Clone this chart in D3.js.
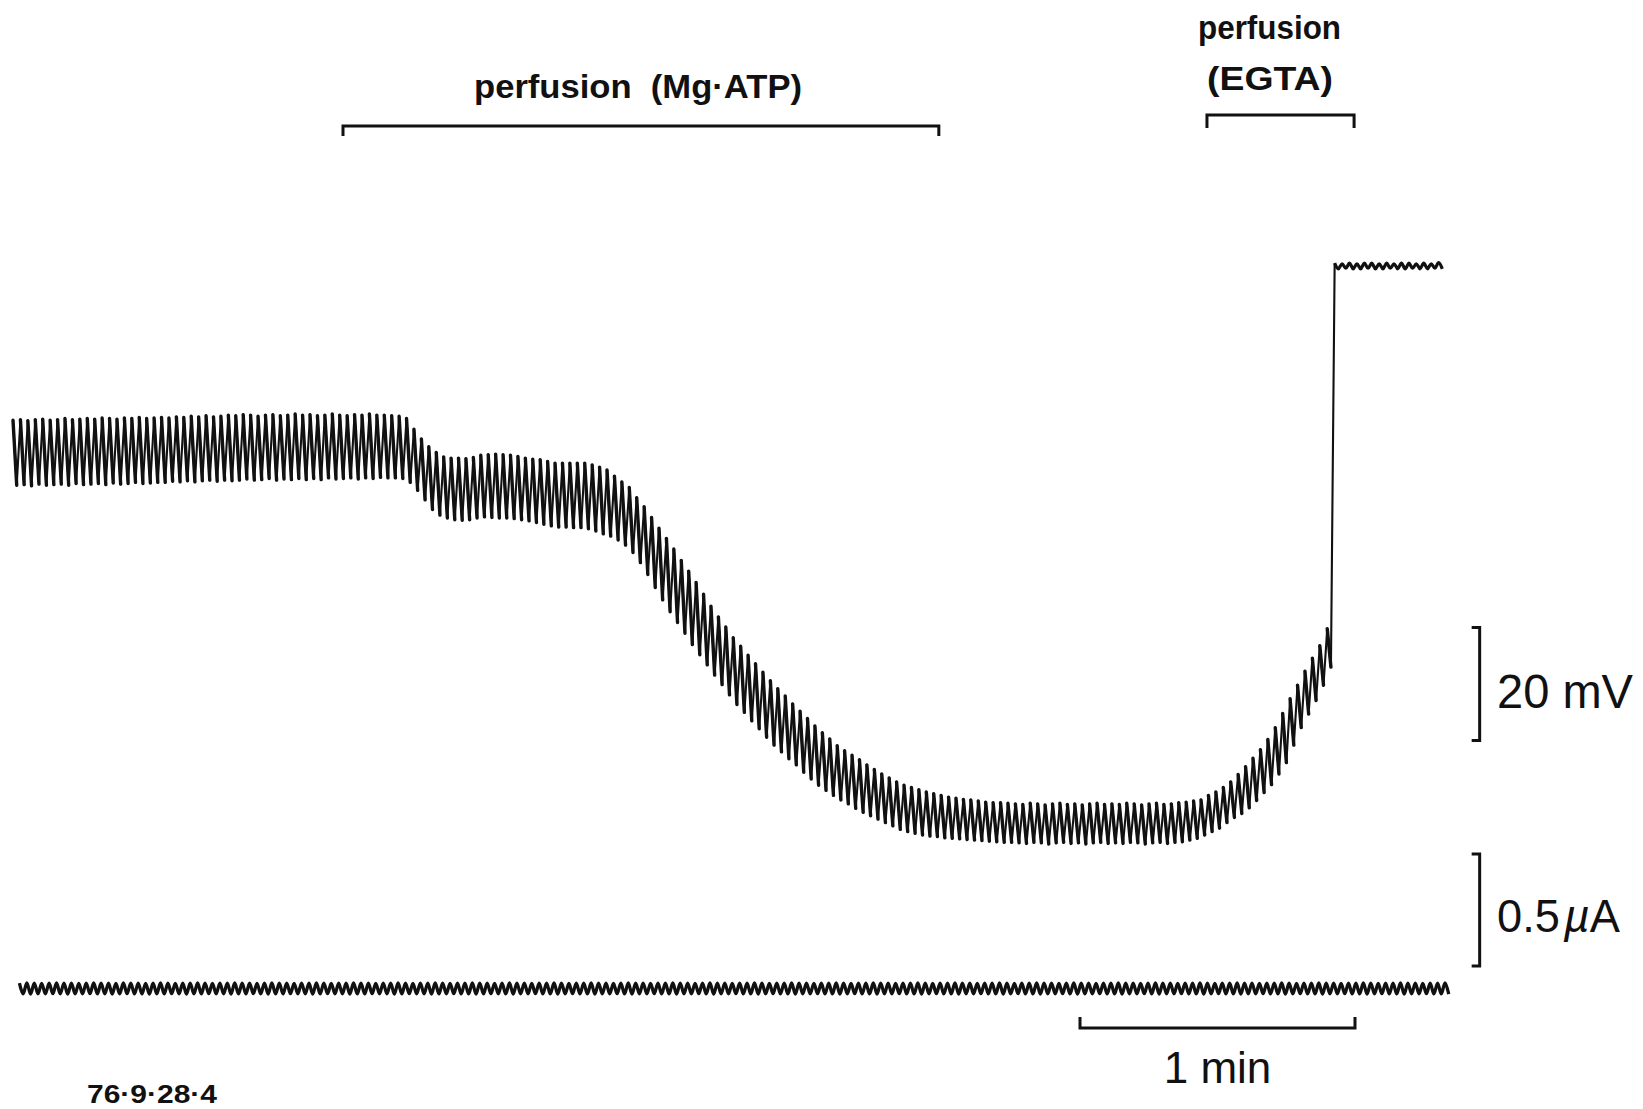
<!DOCTYPE html>
<html><head><meta charset="utf-8">
<script src="https://cdn.jsdelivr.net/npm/d3@7"></script>
<style>html,body{margin:0;padding:0;background:#fff;} svg{display:block;}</style>
</head><body>
<svg id="chart" width="1643" height="1109"></svg>
<script>
// ---------------- DATA ----------------
// stimulus (current pulse) period, seconds
const stimPeriod = 1.62;
// pen offset of the current trace relative to the voltage trace, seconds
const currentPenOffset = 1.4;

// membrane potential: upper and lower turning point of each pulse response (mV, relative)
const vPeak = [
-27.3,-27.2,-27.4,-27.2,-27.1,-27.3,-27.2,-27.0,-27.2,-27.1,
-27.0,-27.1,-26.9,-27.0,-27.1,-26.9,-27.0,-26.8,-27.0,-26.9,
-26.8,-26.9,-26.7,-26.8,-26.6,-26.7,-26.5,-26.7,-26.6,-26.4,
-26.5,-26.3,-26.4,-26.6,-26.4,-26.3,-26.5,-26.4,-26.2,-26.4,
-26.3,-26.5,-26.4,-26.2,-26.4,-26.5,-26.3,-26.4,-26.2,-26.4,
-26.4,-26.5,-26.6,-27.0,-28.9,-30.6,-32.0,-33.0,-33.8,-34.0,
-34.0,-34.1,-33.9,-33.5,-33.4,-33.3,-33.4,-33.5,-33.7,-34.0,
-34.2,-34.3,-34.6,-34.9,-34.9,-34.9,-34.9,-34.9,-35.2,-35.6,
-36.1,-37.2,-38.2,-39.2,-41.0,-42.6,-44.5,-46.4,-48.2,-50.1,
-52.1,-54.0,-56.0,-58.1,-60.2,-62.1,-63.9,-65.8,-67.3,-68.9,
-70.4,-71.9,-73.4,-74.8,-76.1,-77.5,-78.8,-80.1,-81.4,-82.6,
-83.7,-84.9,-85.8,-86.6,-87.4,-88.3,-89.1,-89.9,-90.6,-91.3,
-91.9,-92.3,-92.7,-93.1,-93.4,-93.7,-94.0,-94.2,-94.4,-94.5,
-94.7,-94.9,-95.0,-95.0,-95.1,-95.2,-95.3,-95.1,-95.2,-95.4,
-95.2,-95.1,-95.3,-95.2,-95.4,-95.2,-95.1,-95.3,-95.2,-95.3,
-95.1,-95.2,-95.4,-95.2,-95.1,-95.3,-95.2,-95.0,-94.9,-94.7,
-94.5,-93.7,-93.1,-92.3,-91.3,-90.0,-88.6,-87.1,-85.6,-83.8,
-81.7,-79.2,-76.6,-74.2,-71.7,-69.4,-67.2,-64.2
];
const vTrough = [
-38.8,-38.7,-38.9,-38.6,-38.8,-38.7,-38.6,-38.8,-38.5,-38.7,
-38.6,-38.5,-38.7,-38.4,-38.6,-38.5,-38.3,-38.5,-38.4,-38.3,
-38.3,-38.1,-38.2,-38.0,-38.2,-38.0,-37.9,-38.1,-37.9,-38.0,
-37.9,-37.7,-37.9,-37.8,-37.6,-37.9,-37.7,-37.8,-37.6,-37.8,
-37.6,-37.8,-37.5,-37.7,-37.6,-37.5,-37.7,-37.5,-37.6,-37.4,
-37.5,-37.5,-37.6,-38.3,-39.7,-41.4,-43.1,-44.1,-44.6,-44.9,
-45.0,-44.9,-44.6,-44.4,-44.5,-44.6,-44.6,-44.7,-44.9,-45.1,
-45.4,-45.7,-46.0,-46.2,-46.2,-46.3,-46.3,-46.5,-46.9,-47.4,
-47.8,-48.5,-49.4,-50.7,-52.5,-54.6,-56.9,-59.1,-61.2,-63.1,
-65.0,-67.0,-68.8,-70.6,-72.4,-74.1,-75.9,-77.6,-79.0,-80.5,
-81.9,-83.4,-84.8,-86.0,-87.2,-88.3,-89.6,-90.8,-91.9,-92.8,
-93.7,-94.5,-95.2,-96.0,-96.7,-97.3,-97.9,-98.5,-99.1,-99.7,
-100.1,-100.4,-100.7,-100.9,-101.0,-101.2,-101.3,-101.4,-101.5,-101.6,
-101.7,-101.8,-101.9,-102.0,-102.0,-102.1,-102.2,-102.0,-102.1,-102.3,
-102.1,-102.0,-102.2,-102.1,-102.3,-102.1,-102.0,-102.2,-102.1,-102.2,
-102.0,-102.1,-102.3,-102.1,-102.0,-102.2,-102.0,-101.9,-101.6,-101.3,
-100.7,-100.1,-99.5,-98.5,-97.6,-96.9,-95.9,-94.6,-93.2,-91.8,
-89.9,-87.9,-84.8,-81.7,-79.3,-76.9,-74.2,-71.0
];
// after EGTA: depolarised plateau with small ripple (mV, relative)
const plateauPeak   = [0.5,0.4,0.5,0.4,0.5,0.5,0.4,0.5,0.4,0.5,0.5,0.4,0.5,0.4,0.6];
const plateauTrough = [-0.5,-0.4,-0.5,-0.5,-0.4,-0.5,-0.5,-0.4,-0.5,-0.5,-0.4,-0.5,-0.5,-0.4,-0.5];

// injected current: upper and lower turning point of each pulse (nA, relative)
const iPeak = [
24,25,24,23,24,25,24,24,23,24, 25,24,24,23,25,24,24,23,24,25,
24,23,24,24,25,24,23,24,24,25, 24,24,23,24,25,24,24,23,24,24,
25,24,23,24,24,25,24,24,23,24, 24,25,24,23,24,24,25,24,23,24,
24,25,24,24,23,24,25,24,24,23, 24,24,25,24,23,24,24,25,24,24,
23,24,25,24,24,23,24,24,25,24, 24,23,24,25,24,24,23,24,24,25,
24,23,24,24,25,24,24,23,24,24, 25,24,23,24,24,25,24,24,23,24,
24,25,24,23,24,24,25,24,24,23, 24,24,25,24,23,24,24,25,24,24,
23,24,25,24,24,23,24,24,25,24, 24,23,24,25,24,24,23,24,24,25,
24,23,24,24,25,24,24,23,24,24, 25,24,23,24,24,25,24,24,23,24,
24,25,24,23,24,24,25,24,24,23, 24,24,25
];
const iTrough = [
-24,-25,-24,-24,-23,-24,-25,-24,-24,-23, -24,-24,-25,-24,-23,-24,-24,-25,-24,-24,
-23,-24,-25,-24,-24,-23,-24,-24,-25,-24, -24,-23,-24,-25,-24,-24,-23,-24,-24,-25,
-24,-23,-24,-24,-25,-24,-24,-23,-24,-24, -25,-24,-23,-24,-24,-25,-24,-24,-23,-24,
-24,-25,-24,-23,-24,-24,-25,-24,-24,-23, -24,-24,-25,-24,-23,-24,-24,-25,-24,-24,
-23,-24,-25,-24,-24,-23,-24,-24,-25,-24, -24,-23,-24,-25,-24,-24,-23,-24,-24,-25,
-24,-23,-24,-24,-25,-24,-24,-23,-24,-24, -25,-24,-23,-24,-24,-25,-24,-24,-23,-24,
-24,-25,-24,-23,-24,-24,-25,-24,-24,-23, -24,-24,-25,-24,-23,-24,-24,-25,-24,-24,
-23,-24,-25,-24,-24,-23,-24,-24,-25,-24, -24,-23,-24,-25,-24,-24,-23,-24,-24,-25,
-24,-23,-24,-24,-25,-24,-24,-23,-24,-24, -25,-24,-23,-24,-24,-25,-24,-24,-23,-24,
-24,-25,-24,-23,-24,-24,-25,-24,-24,-23, -24,-24,-25
];

// perfusion periods (s)
const perfusionNames = ["(Mg·ATP)", "(EGTA)"];
const perfusionStart = [72.0, 260.5];
const perfusionEnd   = [202.0, 292.6];

// calibration bars
const timeBarStart = 232.8;   // s
const timeBarLength = 60;     // s  -> "1 min"
const voltBar = [-64, -84];   // mV -> "20 mV"
const currBar = [600, 100];   // nA -> "0.5 µA"
const calibTime = 320;        // s, horizontal position of vertical bars
const recordId = "76·9·28·4";

// ---------------- SCALES ----------------
const x  = d3.scaleLinear().domain([0, 60]).range([13, 288]);      // 1 min = 275 px
const yV = d3.scaleLinear().domain([0, -20]).range([266, 379]);    // 20 mV = 113 px
const yI = d3.scaleLinear().domain([0, 500]).range([988.5, 876.5]); // 0.5 uA = 112 px

const svg = d3.select("#chart");
svg.append("rect").attr("width",1643).attr("height",1109).attr("fill","#fff");
const ink = "#111";
const FONT = "'Liberation Sans', Arial, sans-serif";

// ---------------- VOLTAGE TRACE ----------------
const nV = Math.min(vPeak.length, vTrough.length);
const vPts = [];
for (let k = 0; k < nV; k++) {
  vPts.push([k*stimPeriod, vPeak[k]]);
  vPts.push([k*stimPeriod + stimPeriod/2, vTrough[k]]);
}
const plateauStart = nV;
const pPts = [];
for (let j = 0; j < Math.min(plateauPeak.length, plateauTrough.length); j++) {
  const t = (plateauStart + j) * stimPeriod;
  pPts.push([t, plateauPeak[j]]);
  pPts.push([t + stimPeriod/2, plateauTrough[j]]);
}
const lineV = d3.line().x(d => x(d[0])).y(d => yV(d[1]));

// thin continuous trace (includes the jump to the plateau)
svg.append("path")
  .attr("d", lineV(vPts.concat([pPts[0]])))
  .attr("fill","none").attr("stroke",ink).attr("stroke-width",2.1)
  .attr("stroke-linejoin","round");
// heavy falling strokes of each pulse
const pdown = d3.path();
for (let k = 0; k < nV; k++) {
  pdown.moveTo(x(k*stimPeriod), yV(vPeak[k]));
  pdown.lineTo(x(k*stimPeriod + stimPeriod/2), yV(vTrough[k]));
}
svg.append("path").attr("d", pdown.toString())
  .attr("fill","none").attr("stroke",ink).attr("stroke-width",3.4)
  .attr("stroke-linecap","round");
// plateau ripple
svg.append("path")
  .attr("d", d3.line().x(d => x(d[0])).y(d => yV(d[1])).curve(d3.curveCatmullRom)(pPts))
  .attr("fill","none").attr("stroke",ink).attr("stroke-width",3.2);

// ---------------- CURRENT TRACE ----------------
const nI = Math.min(iPeak.length, iTrough.length);
const iPts = [];
for (let k = 0; k < nI; k++) {
  const t = currentPenOffset + k*stimPeriod;
  iPts.push([t, iPeak[k]]);
  iPts.push([t + stimPeriod/2, iTrough[k]]);
}
svg.append("path")
  .attr("d", d3.line().x(d => x(d[0])).y(d => yI(d[1])).curve(d3.curveCatmullRom)(iPts))
  .attr("fill","none").attr("stroke",ink).attr("stroke-width",3.3);

// ---------------- PERFUSION BARS ----------------
const barY = [126, 115], barTick = [10, 13];
perfusionNames.forEach((name, i) => {
  const x0 = x(perfusionStart[i]), x1 = x(perfusionEnd[i]);
  svg.append("path")
    .attr("d", `M${x0},${barY[i]+barTick[i]}V${barY[i]}H${x1}V${barY[i]+barTick[i]}`)
    .attr("fill","none").attr("stroke",ink).attr("stroke-width",3);
});
svg.append("text").attr("x", 474).attr("y", 97.5)
  .attr("font-family", FONT).attr("font-weight","bold").attr("font-size",33)
  .attr("textLength",328).attr("lengthAdjust","spacingAndGlyphs")
  .attr("xml:space","preserve").attr("fill",ink)
  .text("perfusion  " + perfusionNames[0]);
svg.append("text").attr("x", 1198).attr("y", 39)
  .attr("font-family", FONT).attr("font-weight","bold").attr("font-size",33)
  .attr("textLength",143).attr("lengthAdjust","spacingAndGlyphs").attr("fill",ink)
  .text("perfusion");
svg.append("text").attr("x", 1207).attr("y", 90)
  .attr("font-family", FONT).attr("font-weight","bold").attr("font-size",33)
  .attr("textLength",126).attr("lengthAdjust","spacingAndGlyphs").attr("fill",ink)
  .text(perfusionNames[1]);

// ---------------- CALIBRATION ----------------
const cx = x(calibTime);
svg.append("path")
  .attr("d", `M${cx-8},${yV(voltBar[0])}H${cx}V${yV(voltBar[1])}H${cx-8}`)
  .attr("fill","none").attr("stroke",ink).attr("stroke-width",3);
svg.append("path")
  .attr("d", `M${cx-8},${yI(currBar[0])}H${cx}V${yI(currBar[1])}H${cx-8}`)
  .attr("fill","none").attr("stroke",ink).attr("stroke-width",3);
svg.append("text").attr("x", 1497).attr("y", 708)
  .attr("font-family", FONT).attr("font-size",48).attr("fill",ink)
  .attr("textLength",136).attr("lengthAdjust","spacingAndGlyphs")
  .text("20 mV");
const tI = svg.append("text").attr("x", 1497).attr("y", 932)
  .attr("font-family", FONT).attr("font-size",46).attr("fill",ink)
  .attr("textLength",123).attr("lengthAdjust","spacingAndGlyphs");
tI.append("tspan").text("0.5");
tI.append("tspan").attr("font-style","italic").attr("dx",4).text("µ");
tI.append("tspan").text("A");

const tx0 = x(timeBarStart), tx1 = x(timeBarStart + timeBarLength);
svg.append("path")
  .attr("d", `M${tx0},1017V1028H${tx1}V1017`)
  .attr("fill","none").attr("stroke",ink).attr("stroke-width",3);
svg.append("text").attr("x", (tx0+tx1)/2).attr("y", 1083).attr("text-anchor","middle")
  .attr("font-family", FONT).attr("font-size",44).attr("fill",ink)
  .text("1 min");

svg.append("text").attr("x", 87).attr("y", 1103)
  .attr("font-family", FONT).attr("font-weight","bold").attr("font-size",26)
  .attr("textLength",130).attr("lengthAdjust","spacingAndGlyphs").attr("fill",ink)
  .text(recordId);
</script>
</body></html>
